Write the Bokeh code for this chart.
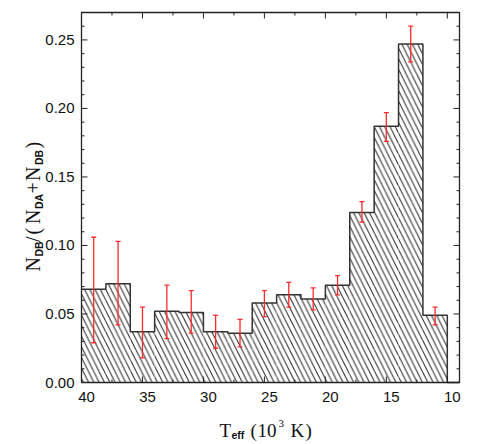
from math import pi
from bokeh.plotting import figure
from bokeh.models import Range1d, Label, Whisker, TeeHead, ColumnDataSource
from bokeh.embed import file_html
from bokeh.resources import INLINE

# ---------------- data ----------------
bin_left = [40, 38, 36, 34, 32, 30, 28, 26, 24, 22, 20, 18, 16, 14, 12]
bin_right = [38, 36, 34, 32, 30, 28, 26, 24, 22, 20, 18, 16, 14, 12, 10]
bin_center = [39, 37, 35, 33, 31, 29, 27, 25, 23, 21, 19, 17, 15, 13, 11]
fraction = [0.068, 0.072, 0.037, 0.052, 0.051, 0.037, 0.036, 0.058,
            0.064, 0.061, 0.071, 0.124, 0.187, 0.247, 0.049]
err_upper = [0.106, 0.103, 0.055, 0.071, 0.067, 0.049, 0.046, 0.067,
             0.073, 0.069, 0.078, 0.132, 0.197, 0.260, 0.055]
err_lower = [0.029, 0.042, 0.018, 0.032, 0.036, 0.025, 0.026, 0.048,
             0.055, 0.053, 0.064, 0.117, 0.176, 0.234, 0.042]
empty_edges = [10, 9]
empty_values = [0, 0]
x_ticks = [40, 35, 30, 25, 20, 15, 10]
x_tick_labels = ["40", "35", "30", "25", "20", "15", "10"]
x_minor_ticks = [37.5, 32.5, 27.5, 22.5, 17.5, 12.5]
y_ticks = [0.00, 0.05, 0.10, 0.15, 0.20, 0.25]
y_tick_labels = ["0.00", "0.05", "0.10", "0.15", "0.20", "0.25"]
y_minor_ticks = [0.01, 0.02, 0.03, 0.04, 0.06, 0.07, 0.08, 0.09, 0.11, 0.12,
                 0.13, 0.14, 0.16, 0.17, 0.18, 0.19, 0.21, 0.22, 0.23, 0.24,
                 0.26]

# ---------------- layout (pixel geometry of the plot box) ----------------
W, H = 472, 442
FL, FR, FT, FB = 81, 459, 12, 382        # plot box edges in canvas pixels
X0, X1 = 40, 9                           # data limits of the box
Y0, Y1 = 0.0, 0.27
KX = (X1 - X0) / (FR - FL)               # data units per pixel (x)
KY = (Y1 - Y0) / (FB - FT)               # data units per pixel (y)


def dx(px):
    return X0 + (px - FL) * KX


def dy(py):
    return Y0 + (FB - py) * KY


p = figure(width=W, height=H,
           x_range=Range1d(dx(0), dx(W)), y_range=Range1d(dy(H), dy(0)),
           output_backend="svg", toolbar_location=None,
           x_axis_location=None, y_axis_location=None,
           min_border=0)
p.outline_line_color = None
p.xgrid.visible = False
p.ygrid.visible = False
p.background_fill_color = "white"
p.border_fill_color = "white"

AX = "#222222"
TXT = "#111111"

# hatched histogram
p.quad(left=bin_left, right=bin_right, bottom=0, top=fraction,
       fill_color="white", line_color=None,
       hatch_pattern="\\", hatch_color="#222222", hatch_scale=10.6, hatch_weight=1)

# outline of histogram
p.step(bin_left + empty_edges, fraction + empty_values, mode="after",
       line_color="#333333", line_width=1.5)

# ---------------- axes box and inward ticks ----------------
MAJ, MIN = 6, 3   # tick lengths in pixels
xs_maj = list(x_ticks)
xs_min = list(x_minor_ticks)
p.segment(x0=xs_maj, y0=[Y0] * len(xs_maj), x1=xs_maj, y1=[Y0 + MAJ * KY] * len(xs_maj),
          line_color=AX, line_width=1)
p.segment(x0=xs_maj, y0=[Y1] * len(xs_maj), x1=xs_maj, y1=[Y1 - MAJ * KY] * len(xs_maj),
          line_color=AX, line_width=1)
p.segment(x0=xs_min, y0=[Y0] * len(xs_min), x1=xs_min, y1=[Y0 + MIN * KY] * len(xs_min),
          line_color=AX, line_width=1)
p.segment(x0=xs_min, y0=[Y1] * len(xs_min), x1=xs_min, y1=[Y1 - MIN * KY] * len(xs_min),
          line_color=AX, line_width=1)
ys_maj = list(y_ticks)
ys_min = list(y_minor_ticks)
p.segment(x0=[X0] * len(ys_maj), y0=ys_maj, x1=[X0 + MAJ * KX] * len(ys_maj), y1=ys_maj,
          line_color=AX, line_width=1)
p.segment(x0=[X1] * len(ys_maj), y0=ys_maj, x1=[X1 - MAJ * KX] * len(ys_maj), y1=ys_maj,
          line_color=AX, line_width=1)
p.segment(x0=[X0] * len(ys_min), y0=ys_min, x1=[X0 + MIN * KX] * len(ys_min), y1=ys_min,
          line_color=AX, line_width=1)
p.segment(x0=[X1] * len(ys_min), y0=ys_min, x1=[X1 - MIN * KX] * len(ys_min), y1=ys_min,
          line_color=AX, line_width=1)
p.quad(left=[X0], right=[X1], bottom=[Y0], top=[Y1], fill_color=None,
       line_color=AX, line_width=1.3)

# error bars
src = ColumnDataSource(dict(x=bin_center, up=err_upper, lo=err_lower))
wh = Whisker(source=src, base="x", upper="up", lower="lo", dimension="height",
             line_color="#ff2a2a", line_width=1.3, level="annotation",
             upper_head=TeeHead(size=5, line_color="#ff2a2a", line_width=1.3),
             lower_head=TeeHead(size=5, line_color="#ff2a2a", line_width=1.3))
p.add_layout(wh)

# ---------------- tick labels ----------------
for t, lab in zip(x_ticks, x_tick_labels):
    p.add_layout(Label(x=t + 5 * KX, y=dy(396), text=lab, text_align="center",
                       text_baseline="middle",
                       text_font="Liberation Sans", text_font_size="15px",
                       text_color=TXT))
for t, lab in zip(y_ticks, y_tick_labels):
    p.add_layout(Label(x=dx(74), y=t, text=lab, text_align="right",
                       text_baseline="middle",
                       text_font="Liberation Sans", text_font_size="15px",
                       text_color=TXT))

SERIF = "Liberation Serif"
SANS = "Liberation Sans"

# x axis title: T_eff (10^3 K)
xlab = [("T", 219, 430, SERIF, "19px", "normal"),
        ("eff", 231, 434, SANS, "10.5px", "bold"),
        ("(", 250, 430, SERIF, "19px", "normal"),
        ("10", 257, 430, SERIF, "19px", "normal"),
        ("3", 278, 423, SERIF, "11px", "normal"),
        ("K", 290, 430, SERIF, "19px", "normal"),
        (")", 305, 430, SERIF, "19px", "normal")]
for txt, px, py, fam, size, style in xlab:
    p.add_layout(Label(x=dx(px), y=dy(py), text=txt, text_align="left",
                       text_baseline="alphabetic", text_font=fam,
                       text_font_size=size, text_font_style=style,
                       text_color=TXT))

# y axis title: N_DB/(N_DA+N_DB), rotated (start of each piece along y, baseline x)
ylab = [("N", 271, 32, SERIF, "20px", "normal"),
        ("DB", 256, 38.5, SANS, "10.5px", "bold"),
        ("/", 241.5, 32, SERIF, "20px", "normal"),
        ("(", 234, 32, SERIF, "20px", "normal"),
        ("N", 223.5, 32, SERIF, "20px", "normal"),
        ("DA", 208.5, 38.5, SANS, "10.5px", "bold"),
        ("+", 193, 32, SERIF, "20px", "normal"),
        ("N", 180.5, 32, SERIF, "20px", "normal"),
        ("DB", 164.5, 38.5, SANS, "10.5px", "bold"),
        (")", 148, 32, SERIF, "20px", "normal")]
for txt, py, px, fam, size, style in ylab:
    p.add_layout(Label(x=dx(px), y=dy(py), text=txt, angle=pi / 2,
                       text_align="left", text_baseline="alphabetic",
                       text_font=fam, text_font_size=size,
                       text_font_style=style, text_color=TXT))

open("out.html", "w").write(file_html(p, INLINE))
